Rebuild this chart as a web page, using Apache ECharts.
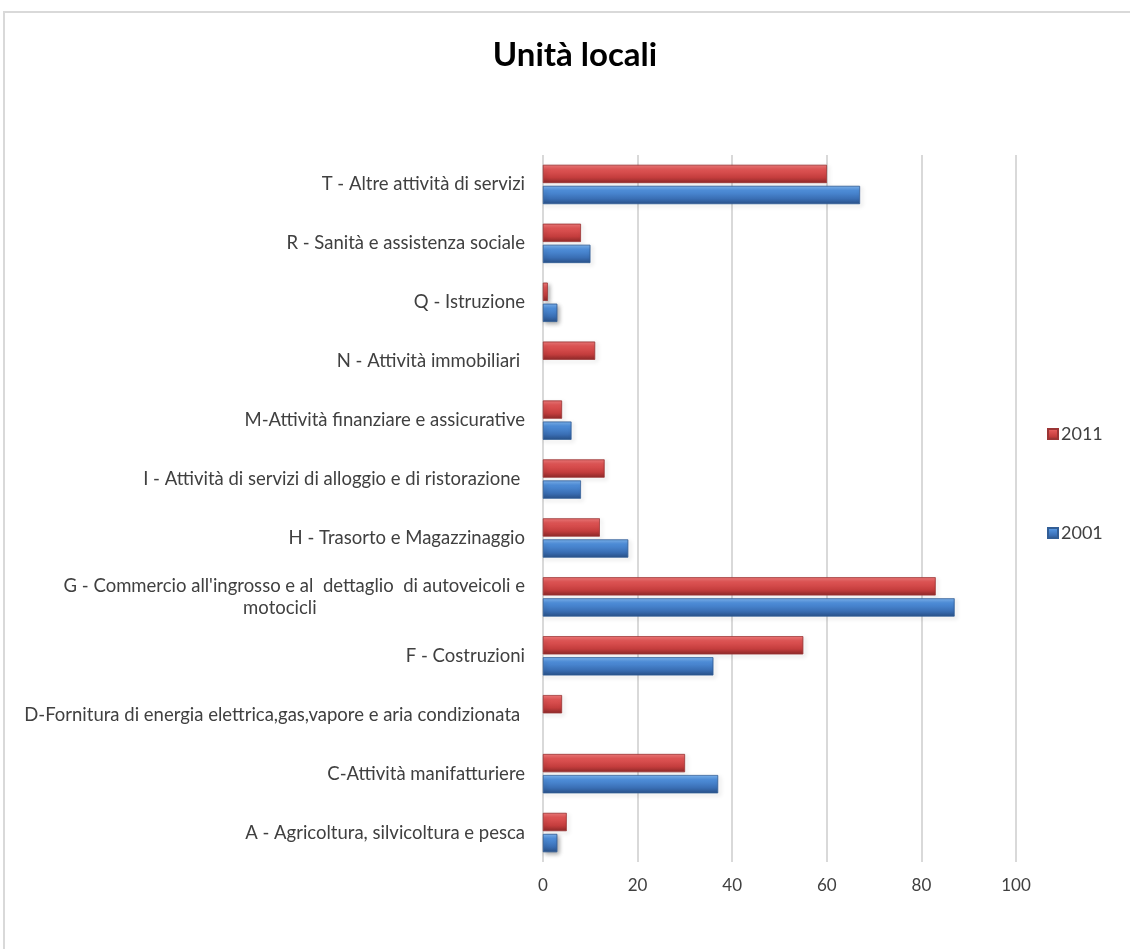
<!DOCTYPE html>
<html>
<head>
<meta charset="utf-8">
<script src="https://cdn.jsdelivr.net/npm/echarts@6/dist/echarts.min.js"></script>
<style>
    html, body { margin: 0; padding: 0; background: #fff; }
</style>
</head>
<body>
<div id="main" style="width: 1130px;height:949px;"></div>
<script type="text/javascript">
    // categorie, dal basso verso l'alto
    var categories = [
        'A - Agricoltura, silvicoltura e pesca',
        'C-Attività manifatturiere',
        'D-Fornitura di energia elettrica,gas,vapore e aria condizionata ',
        'F - Costruzioni',
        "G - Commercio all'ingrosso e al  dettaglio  di autoveicoli e\nmotocicli",
        'H - Trasorto e Magazzinaggio',
        'I - Attività di servizi di alloggio e di ristorazione ',
        'M-Attività finanziare e assicurative',
        'N - Attività immobiliari ',
        'Q - Istruzione',
        'R - Sanità e assistenza sociale',
        'T - Altre attività di servizi'
    ];
    var values2011 = [5, 30, 4, 55, 83, 12, 13, 4, 11, 1, 8, 60];
    var values2001 = [3, 37, 0, 36, 87, 18, 8, 6, 0, 3, 10, 67];
    var xTicks = [0, 20, 40, 60, 80, 100];

    function barColor(light, mid, dark, deep) {
        return new echarts.graphic.LinearGradient(0, 0, 0, 1, [
            {offset: 0, color: light},
            {offset: 0.25, color: mid},
            {offset: 0.7, color: dark},
            {offset: 1, color: deep}
        ]);
    }

    // i valori a zero non hanno barra
    function noZero(arr) {
        return arr.map(function (v) { return v === 0 ? '-' : v; });
    }

    var myChart = echarts.init(document.getElementById('main'));

    var option = {
        backgroundColor: '#fff',
        textStyle: {fontFamily: 'Lato'},
        title: {
            text: 'Unità locali',
            left: 570,
            textAlign: 'center',
            top: 34,
            textStyle: {fontFamily: 'Lato', fontSize: 33, fontWeight: 'bold', color: '#000'}
        },
        graphic: [{
            type: 'rect',
            shape: {x: 4, y: 12, width: 1140, height: 960},
            style: {fill: 'none', stroke: '#d9d9d9', lineWidth: 2},
            silent: true
        }],
        legend: {
            data: ['2011', '2001'],
            orient: 'vertical',
            left: 1042,
            top: 420,
            itemWidth: 10,
            itemHeight: 10,
            itemGap: 81,
            icon: 'rect',
            textStyle: {fontSize: 18, color: '#404040', fontFamily: 'Lato', padding: [0, 0, 0, -2]}
        },
        grid: {left: 543, right: 114, top: 155, bottom: 87, containLabel: false},
        xAxis: {
            type: 'value',
            min: 0,
            max: 100,
            interval: 20,
            axisLine: {show: false},
            axisTick: {show: false},
            splitLine: {lineStyle: {color: '#d9d9d9', width: 2}},
            axisLabel: {
                fontSize: 17, color: '#404040', margin: 15,
                formatter: function (v) { return xTicks.indexOf(v) >= 0 ? String(v) : ''; }
            }
        },
        yAxis: {
            type: 'category',
            data: categories,
            axisLine: {show: false},
            axisTick: {show: false},
            axisLabel: {
                fontSize: 18.5, color: '#404040', margin: 18, lineHeight: 22,
                formatter: function (v) {
                    if (v.indexOf('\n') >= 0) {
                        return v + '\u00a0'.repeat(44);
                    }
                    return v;
                }
            }
        },
        series: [{
            name: '2011',
            type: 'bar',
            data: noZero(values2011),
            barWidth: 18,
            barGap: '17%',
            itemStyle: {
                color: barColor('#f27b7b', '#e05555', '#c43d3d', '#8f2a2a'),
                borderColor: '#9b3535',
                borderWidth: 0.5,
                shadowColor: 'rgba(0,0,0,0.35)',
                shadowBlur: 4,
                shadowOffsetX: 2,
                shadowOffsetY: 2
            }
        }, {
            name: '2001',
            type: 'bar',
            data: noZero(values2001),
            barWidth: 18,
            barGap: '17%',
            itemStyle: {
                color: barColor('#7fb6f2', '#4f8fdb', '#3a6fb5', '#2a528a'),
                borderColor: '#325e96',
                borderWidth: 0.5,
                shadowColor: 'rgba(0,0,0,0.35)',
                shadowBlur: 4,
                shadowOffsetX: 2,
                shadowOffsetY: 2
            }
        }]
    };

    myChart.setOption(option);
</script>
</body>
</html>
